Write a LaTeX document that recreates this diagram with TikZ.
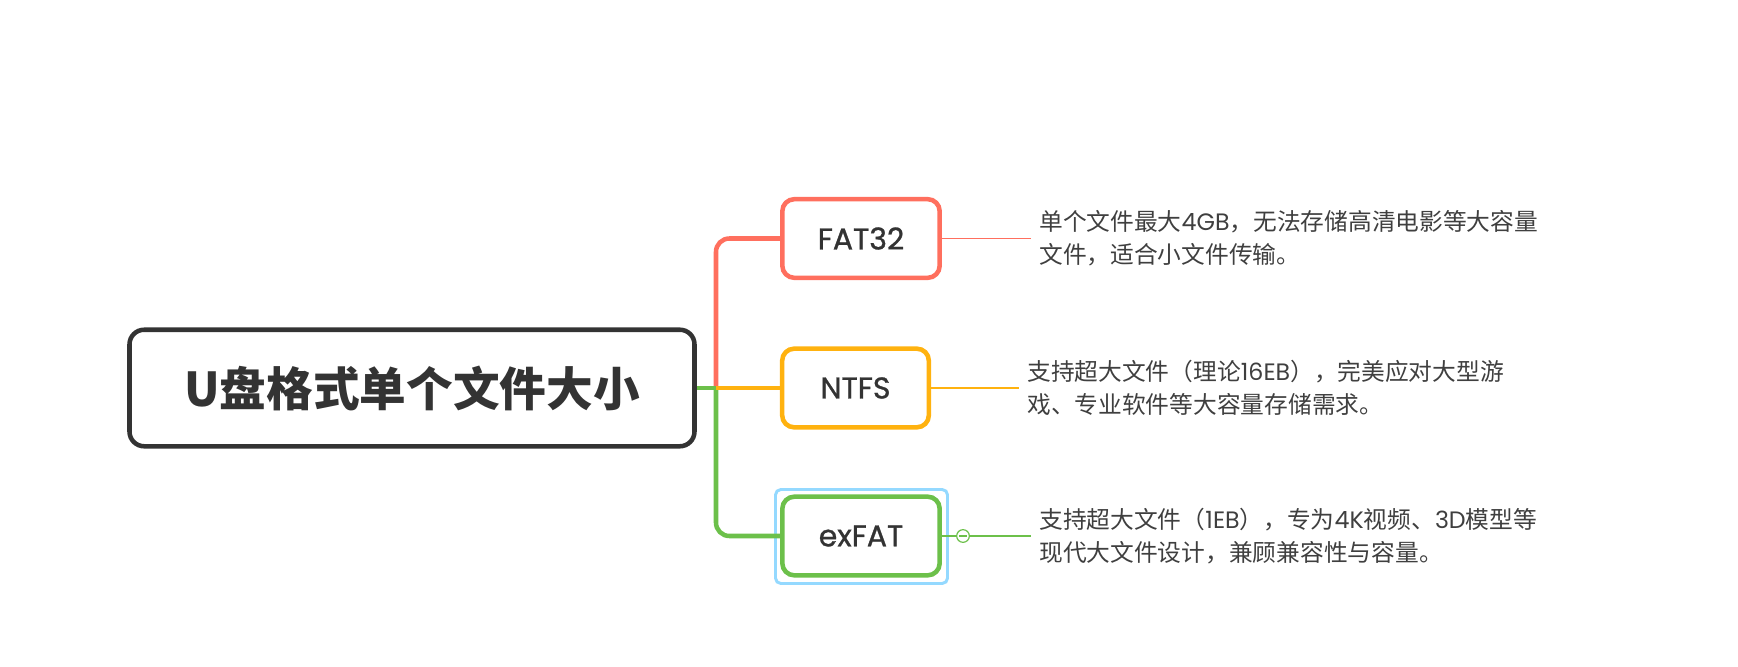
\documentclass[tikz,border=0pt]{standalone}
\usepackage{fontspec}
\setmainfont{Noto Sans CJK SC}
\newfontfamily\lat{Poppins}
\newfontfamily\latm{Poppins}[FakeBold=1]
\definecolor{rootc}{HTML}{333333}
\definecolor{redc}{HTML}{FF6F5E}
\definecolor{orgc}{HTML}{FFB20F}
\definecolor{grnc}{HTML}{6CC04A}
\definecolor{selc}{HTML}{94D9FF}
\definecolor{txtc}{HTML}{333333}
\definecolor{descc}{HTML}{3F3F3F}
\begin{document}
\begin{tikzpicture}[x=0.75pt,y=-0.75pt,
  rootbox/.style={draw=rootc, line width=3.4pt, rounded corners=11pt, fill=white,
    minimum width=423.75pt, minimum height=87.4pt, inner sep=0pt,
    font=\fontsize{35}{42}\selectfont\bfseries, text=txtc},
  childbox/.style={line width=3.4pt, rounded corners=9pt, fill=white,
    minimum height=59pt, inner sep=0pt, font=\latm\fontsize{22.5}{26}\selectfont, text=txtc},
  selbox/.style={draw=selc, line width=2.2pt, rounded corners=4pt,
    minimum width=129pt, minimum height=70.5pt, inner sep=0pt},
  descnode/.style={anchor=west, inner xsep=6pt, inner ysep=0pt, align=left,
    font=\fontsize{17.8}{25}\selectfont, text=descc},
  branch/.style={line width=3.4pt},
  leaf/.style={line width=1.1pt}]
\useasboundingbox (0,0) rectangle (1738,667);

\node[rootbox] (root) at (412,388) {U盘格式单个文件大小};
\node[childbox, draw=redc, minimum width=118pt] (fat) at (861,238.5) {FAT32};
\node[childbox, draw=orgc, minimum width=110pt] (ntfs) at (855.5,388) {NTFS};
\node[selbox] (sel) at (861.5,536.5) {};
\node[childbox, draw=grnc, minimum width=118pt] (exfat) at (861,536) {exFAT};

\coordinate (J) at (716,388);
\draw[branch, redc, rounded corners=10pt] (J) |- (fat.west);
\draw[branch, grnc, rounded corners=10pt] (J) |- (exfat.west);
\draw[branch, orgc] (J) -- (ntfs.west);
\draw[branch, grnc] (root.east) -- (J);

\node[descnode] (d1) at (1031,238.5) {单个文件最大{\lat 4GB}，无法存储高清电影等大容量\\文件，适合小文件传输。};
\node[descnode] (d2) at (1019,388) {支持超大文件（理论{\lat 16EB}），完美应对大型游\\戏、专业软件等大容量存储需求。};
\node[descnode] (d3) at (1031,536) {支持超大文件（{\lat 1EB}），专为{\lat 4K}视频、{\lat 3D}模型等\\现代大文件设计，兼顾兼容性与容量。};

\draw[leaf, redc] (fat.east) -- (d1.west);
\draw[leaf, orgc] (ntfs.east) -- (d2.west);
\draw[leaf, grnc] (exfat.east) -- (d3.west);
\node[circle, draw=grnc, fill=white, line width=0.9pt, minimum size=9.5pt, inner sep=0pt] (col) at (963,536) {};
\draw[grnc, line width=0.9pt] ([xshift=-2.8pt]col.center) -- ([xshift=2.8pt]col.center);
\end{tikzpicture}
\end{document}
